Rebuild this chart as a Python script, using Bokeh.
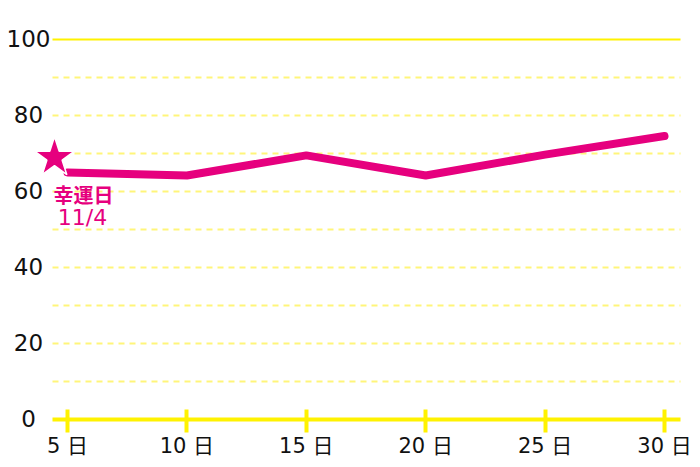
from bokeh.plotting import figure
from bokeh.models import (Range1d, FixedTicker, CustomJSTickFormatter, ColumnDataSource,
                          LabelSet, Grid)
from bokeh.embed import file_html
from bokeh.resources import INLINE
from bokeh.core.properties import value

# ---- data ----
days = [5, 10, 15, 20, 25, 30]
scores = [65.0, 64.2, 69.5, 64.2, 69.7, 74.6]
x_ticks = [5, 10, 15, 20, 25, 30]
x_tick_labels = ["5 日", "10 日", "15 日", "20 日", "25 日", "30 日"]
y_ticks = [0, 20, 40, 60, 80, 100]
y_tick_labels = ["0", "20", "40", "60", "80", "100"]
y_grid_ticks = [10, 20, 30, 40, 50, 60, 70, 80, 90]
y_top_tick = [100]
lucky_x = [4.456]
lucky_y = [68.9]
lucky_title = ["幸運日"]
lucky_date = ["11/4"]

# ---- layout: frame covers the whole canvas, axis drawn at y = 0 ----
AXIS_LO, AXIS_HI = 4.372, 30.67
PX_PER_DAY = 23.88
PX_PER_UNIT = 3.8
W, H = 700, 467
LEFT_PAD, BOTTOM_PAD = 52, 48

x_start = AXIS_LO - LEFT_PAD / PX_PER_DAY
x_end = x_start + W / PX_PER_DAY
y_start = -BOTTOM_PAD / PX_PER_UNIT
y_end = y_start + H / PX_PER_UNIT

PINK = "#E6007E"
YELLOW = "#FFF200"
DASH_YELLOW = "#FFF57A"
FONT_CJK = "Noto Sans CJK JP"
FONT_MIX = "'DejaVu Sans', 'Noto Sans CJK JP', sans-serif"

p = figure(width=W, height=H,
           x_range=Range1d(x_start, x_end), y_range=Range1d(y_start, y_end),
           output_backend="svg", toolbar_location=None,
           min_border_left=0, min_border_right=0,
           min_border_top=0, min_border_bottom=0)
p.outline_line_color = None
p.background_fill_color = "white"
p.border_fill_color = "white"

# grid
p.xgrid.visible = False
has_cross = "cross_bounds" in Grid.properties()
if has_cross:
    p.ygrid.ticker = FixedTicker(ticks=y_grid_ticks)
    p.ygrid.grid_line_color = DASH_YELLOW
    p.ygrid.grid_line_width = 2
    p.ygrid.grid_line_dash = "6 5"
    p.ygrid.cross_bounds = (AXIS_LO, AXIS_HI)
    top = Grid(dimension=1, ticker=FixedTicker(ticks=y_top_tick), grid_line_color=YELLOW,
               grid_line_width=2, cross_bounds=(AXIS_LO, AXIS_HI))
    p.add_layout(top)
else:
    p.ygrid.visible = False
    p.segment(x0=[AXIS_LO] * len(y_grid_ticks), x1=[AXIS_HI] * len(y_grid_ticks),
              y0=y_grid_ticks, y1=y_grid_ticks, line_color=DASH_YELLOW, line_width=2,
              line_dash="6 5")
    p.segment(x0=[AXIS_LO], x1=[AXIS_HI], y0=y_top_tick, y1=y_top_tick,
              line_color=YELLOW, line_width=2)

# y axis labels (centered)
p.yaxis.visible = False
ysrc = ColumnDataSource(dict(x=[AXIS_LO] * len(y_ticks), y=y_ticks, t=y_tick_labels))
p.add_layout(LabelSet(x="x", y="y", text="t", source=ysrc, x_offset=-24, y_offset=1,
                      text_align="center", text_baseline="middle",
                      text_font=value(FONT_MIX), text_font_size="23px", text_color="#111111"))

# x axis at y = 0
p.xaxis.fixed_location = 0
p.xaxis.bounds = (AXIS_LO, AXIS_HI)
p.xaxis.ticker = FixedTicker(ticks=x_ticks)
p.xaxis.formatter = CustomJSTickFormatter(args=dict(xt=x_ticks, xl=x_tick_labels),
                                          code="return xl[xt.indexOf(tick)];")
p.xaxis.axis_line_color = YELLOW
p.xaxis.axis_line_width = 4
p.xaxis.major_tick_line_color = YELLOW
p.xaxis.major_tick_line_width = 4
p.xaxis.major_tick_in = 10
p.xaxis.major_tick_out = 13
p.xaxis.minor_tick_line_color = None
p.xaxis.major_label_standoff = 1
p.xaxis.major_label_text_font = FONT_MIX
p.xaxis.major_label_text_font_size = "21px"
p.xaxis.major_label_text_color = "#111111"

# series
p.line(days, scores, line_width=8, line_color=PINK, line_cap="round", line_join="round")
p.scatter(lucky_x, lucky_y, marker="star", size=42, fill_color=PINK,
          line_color="white", line_width=1.5)

lsrc = ColumnDataSource(dict(x=lucky_x, y=lucky_y, t1=lucky_title, t2=lucky_date))
p.add_layout(LabelSet(x="x", y="y", text="t1", source=lsrc, x_offset=29, y_offset=-37,
                      text_align="center", text_baseline="middle",
                      text_font=value(FONT_CJK), text_font_size="20px",
                      text_font_style="bold", text_color=PINK))
p.add_layout(LabelSet(x="x", y="y", text="t2", source=lsrc, x_offset=28, y_offset=-60,
                      text_align="center", text_baseline="middle",
                      text_font=value(FONT_MIX), text_font_size="22px",
                      text_color=PINK))

open("out.html", "w").write(file_html(p, INLINE))
